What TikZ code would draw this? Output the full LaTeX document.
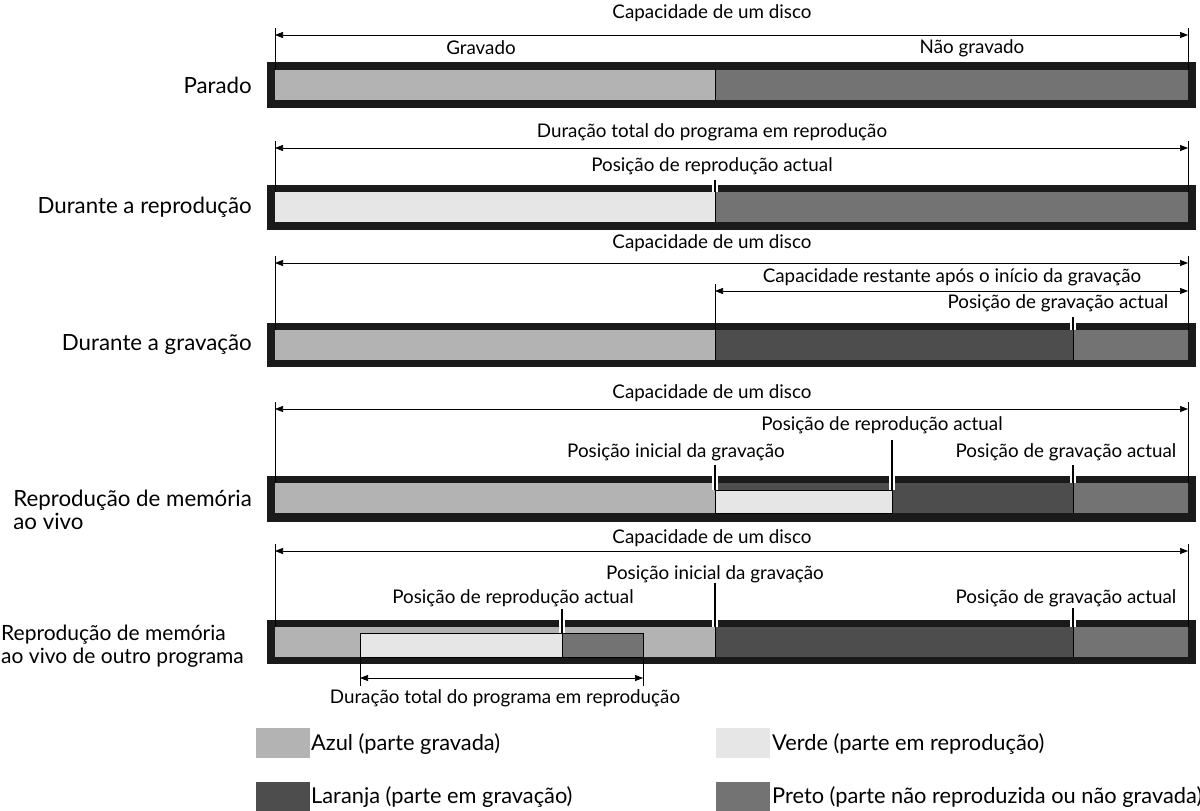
\documentclass[tikz,border=0pt]{standalone}
\usepackage{fontspec}
\setmainfont{Lato}
\usetikzlibrary{arrows.meta}
\definecolor{azul}{HTML}{B3B3B3}
\definecolor{verde}{HTML}{E6E6E6}
\definecolor{laranja}{HTML}{4D4D4D}
\definecolor{preto}{HTML}{737373}
\definecolor{moldura}{HTML}{1A1A1A}
\tikzset{
  ann/.style={inner sep=0pt, font=\fontsize{18.8}{22}\selectfont},
  lab/.style={inner sep=0pt, anchor=east, align=left, font=\fontsize{22.3}{23}\selectfont},
  labsmall/.style={inner sep=0pt, anchor=west, align=left, font=\fontsize{21}{23}\selectfont},
  leg/.style={inner sep=0pt, anchor=west, font=\fontsize{21.8}{24}\selectfont},
  frame/.style={fill=moldura, draw=none},
  seg/.style={draw=black, line width=0.6pt},
  dimline/.style={line width=0.7pt, {Triangle[length=8pt,width=6pt]}-{Triangle[length=8pt,width=6pt]}},
  extline/.style={line width=0.7pt},
  marker/.style={line width=2.6pt, black, preaction={draw=white, line width=5.5pt}}
}
\begin{document}
\begin{tikzpicture}[x=1pt,y=-1pt]
\useasboundingbox (0,0) rectangle (1200,811);
\fill[white] (0,0) rectangle (1200,811);

% ---------- Bar 1: Parado ----------
\fill[frame] (267,62) rectangle (1196,108);
\fill[azul] (275,70) rectangle (715,100);
\fill[preto] (715,70) rectangle (1188,100);
\draw[seg] (715,70) -- (715,100);
\coordinate (b1l) at (275,70); \coordinate (b1r) at (1188,70);
\coordinate (d1l) at (275,35); \coordinate (d1r) at (1188,35);
\draw[extline] (275,28) -- (b1l);
\draw[extline] (1188,28) -- (b1r);
\draw[dimline] (d1l) -- (d1r);
\node[ann] (t1) at (712,13) {Capacidade de um disco};
\node[ann] (t1a) at (481,48) {Gravado};
\node[ann] (t1b) at (972,48) {Não gravado};
\node[lab] (l1) at (252,85) {Parado};

% ---------- Bar 2: Durante a reprodução ----------
\fill[frame] (267,185) rectangle (1196,230);
\fill[verde] (275,192) rectangle (715,222);
\fill[preto] (715,192) rectangle (1188,222);
\draw[seg] (715,192) -- (715,222);
\draw[extline] (275,141) -- (275,192);
\draw[extline] (1188,141) -- (1188,192);
\coordinate (d2l) at (275,148); \coordinate (d2r) at (1188,148);
\draw[dimline] (d2l) -- (d2r);
\node[ann] (t2) at (712,132) {Duração total do programa em reprodução};
\node[ann] (t2a) at (712,166) {Posição de reprodução actual};
\coordinate (m2a) at (715,180); \coordinate (m2b) at (715,192);
\draw[marker] (m2a) -- (m2b);
\node[lab] (l2) at (252,207) {Durante a reprodução};

% ---------- Bar 3: Durante a gravação ----------
\fill[frame] (267,323) rectangle (1196,367);
\fill[azul] (275,330) rectangle (715,360);
\fill[laranja] (715,330) rectangle (1073,360);
\fill[preto] (1073,330) rectangle (1188,360);
\draw[seg] (715,330) -- (715,360);
\draw[seg] (1073,330) -- (1073,360);
\draw[extline] (275,256) -- (275,330);
\draw[extline] (1188,256) -- (1188,330);
\draw[extline] (715,284) -- (715,330);
\coordinate (d3l) at (275,263); \coordinate (d3r) at (1188,263);
\draw[dimline] (d3l) -- (d3r);
\coordinate (d3bl) at (715,291); \coordinate (d3br) at (1188,291);
\draw[dimline] (d3bl) -- (d3br);
\node[ann] (t3) at (712,243) {Capacidade de um disco};
\node[ann] (t3a) at (952,277) {Capacidade restante após o início da gravação};
\node[ann] (t3b) at (1058,303) {Posição de gravação actual};
\coordinate (m3a) at (1073,317); \coordinate (m3b) at (1073,330);
\draw[marker] (m3a) -- (m3b);
\node[lab] (l3) at (252,345) {Durante a gravação};

% ---------- Bar 4: Reprodução de memória ao vivo ----------
\fill[frame] (267,476) rectangle (1196,522);
\fill[azul] (275,483) rectangle (715,513);
\fill[laranja] (715,483) rectangle (1073,513);
\fill[preto] (1073,483) rectangle (1188,513);
\fill[verde] (715,490) rectangle (892,513);
\draw[seg] (715,490) rectangle (892,513);
\draw[seg] (715,483) -- (715,513);
\draw[seg] (1073,483) -- (1073,513);
\draw[extline] (275,402) -- (275,483);
\draw[extline] (1188,402) -- (1188,483);
\coordinate (d4l) at (275,409); \coordinate (d4r) at (1188,409);
\draw[dimline] (d4l) -- (d4r);
\node[ann] (t4) at (712,393) {Capacidade de um disco};
\node[ann] (t4a) at (882,425) {Posição de reprodução actual};
\node[ann] (t4b) at (676,452) {Posição inicial da gravação};
\node[ann] (t4c) at (1066,452) {Posição de gravação actual};
\coordinate (m4a) at (715,465); \coordinate (m4b) at (715,490);
\draw[marker] (m4a) -- (m4b);
\coordinate (m4c) at (892,440); \coordinate (m4d) at (892,490);
\draw[marker] (m4c) -- (m4d);
\coordinate (m4e) at (1073,465); \coordinate (m4f) at (1073,483);
\draw[marker] (m4e) -- (m4f);
\node[lab] (l4) at (252,510) {Reprodução de memória\\ao vivo};

% ---------- Bar 5: Reprodução de memória ao vivo de outro programa ----------
\fill[frame] (267,620) rectangle (1196,664);
\fill[azul] (275,627) rectangle (715,657);
\fill[laranja] (715,627) rectangle (1073,657);
\fill[preto] (1073,627) rectangle (1188,657);
\fill[verde] (360,633) rectangle (562,657);
\fill[preto] (562,633) rectangle (643,657);
\draw[seg] (360,633) rectangle (643,657);
\draw[seg] (562,633) -- (562,657);
\draw[seg] (715,627) -- (715,657);
\draw[seg] (1073,627) -- (1073,657);
\draw[extline] (275,544) -- (275,627);
\draw[extline] (1188,544) -- (1188,627);
\coordinate (d5l) at (275,551); \coordinate (d5r) at (1188,551);
\draw[dimline] (d5l) -- (d5r);
\draw[extline] (360,657) -- (360,686);
\draw[extline] (643,657) -- (643,686);
\coordinate (d5bl) at (360,678); \coordinate (d5br) at (643,678);
\draw[dimline] (d5bl) -- (d5br);
\node[ann] (t5) at (712,538) {Capacidade de um disco};
\node[ann] (t5a) at (715,574) {Posição inicial da gravação};
\node[ann] (t5b) at (513,598) {Posição de reprodução actual};
\node[ann] (t5c) at (1066,598) {Posição de gravação actual};
\node[ann] (t5d) at (505,698) {Duração total do programa em reprodução};
\coordinate (m5a) at (715,583); \coordinate (m5b) at (715,627);
\draw[marker] (m5a) -- (m5b);
\coordinate (m5c) at (562,609); \coordinate (m5d) at (562,633);
\draw[marker] (m5c) -- (m5d);
\coordinate (m5e) at (1073,608); \coordinate (m5f) at (1073,627);
\draw[marker] (m5e) -- (m5f);
\node[labsmall] (l5) at (1,646) {Reprodução de memória\\ao vivo de outro programa};

% ---------- Legend ----------
\fill[azul] (256,728) rectangle (310,758);
\node[leg] (g1) at (311,744) {Azul (parte gravada)};
\fill[verde] (716,728) rectangle (770,758);
\node[leg] (g2) at (772,744) {Verde (parte em reprodução)};
\fill[laranja] (256,782) rectangle (310,811);
\node[leg] (g3) at (311,797) {Laranja (parte em gravação)};
\fill[preto] (716,782) rectangle (770,811);
\node[leg] (g4) at (772,797) {Preto (parte não reproduzida ou não gravada)};
\end{tikzpicture}
\end{document}
